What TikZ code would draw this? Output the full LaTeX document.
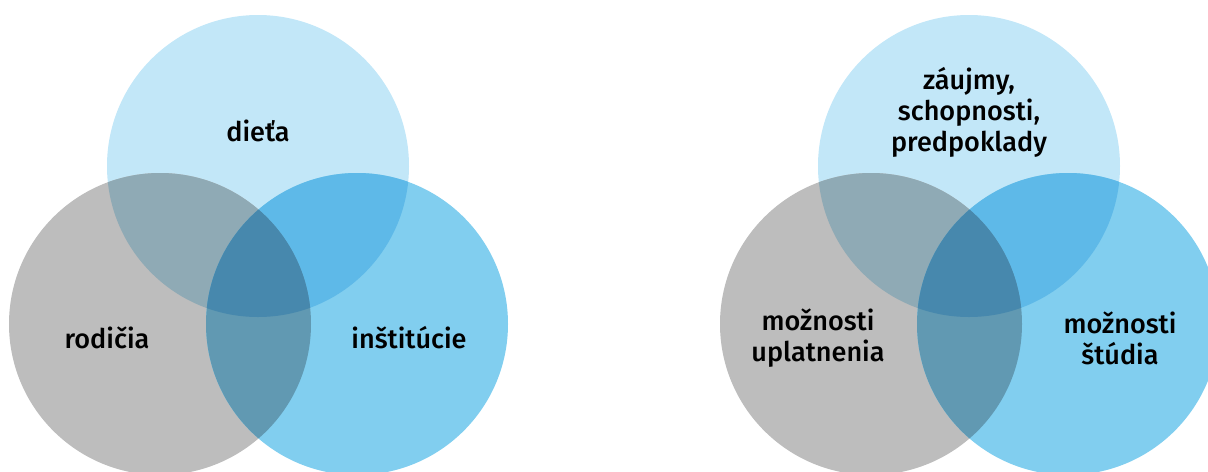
\documentclass[tikz,border=0pt]{standalone}
\usepackage{fontspec}
\setmainfont{Fira Sans}[UprightFont=* Medium]
\definecolor{skyc}{HTML}{C2E7F8}
\definecolor{greyc}{HTML}{BDBDBD}
\definecolor{bluec}{HTML}{81CEEF}
\definecolor{skygreyc}{HTML}{8FAAB5}
\definecolor{skybluec}{HTML}{5EB9E8}
\definecolor{greybluec}{HTML}{6199B2}
\definecolor{allc}{HTML}{4788AD}
\tikzset{vlabel/.style={font=\fontsize{15.4}{17.6}\selectfont, align=center, text=black, inner sep=0pt}}
% three circles, #1 = x of the top one
\newcommand{\venndiagram}[1]{%
  \fill[skyc] (#1,166) circle (\r);
  \fill[greyc] (#1-98,324) circle (\r);
  \fill[bluec] (#1+99,324) circle (\r);
  \begin{scope}
    \clip (#1,166) circle (\r);
    \fill[skygreyc] (#1-98,324) circle (\r);
    \fill[skybluec] (#1+99,324) circle (\r);
  \end{scope}
  \begin{scope}
    \clip (#1-98,324) circle (\r);
    \fill[greybluec] (#1+99,324) circle (\r);
  \end{scope}
  \begin{scope}
    \clip (#1,166) circle (\r);
    \clip (#1-98,324) circle (\r);
    \fill[allc] (#1+99,324) circle (\r);
  \end{scope}
}
\begin{document}
\begin{tikzpicture}[x=0.02cm,y=-0.02cm]
  \def\r{151};
  \useasboundingbox (0,0) rectangle (1208,471);
  \clip (0,0) rectangle (1208,471);

  \venndiagram{258}
  \venndiagram{969}

  \node[vlabel] (dieta) at (258,131) {dieťa};
  \node[vlabel] (rodicia) at (107,338) {rodičia};
  \node[vlabel] (institucie) at (409,338) {inštitúcie};

  \node[vlabel] (zaujmy) at (969,112) {záujmy,\\schopnosti,\\predpoklady};
  \node[vlabel] (uplatnenie) at (818,338) {možnosti\\uplatnenia};
  \node[vlabel] (studium) at (1120,338) {možnosti\\štúdia};
\end{tikzpicture}
\end{document}
